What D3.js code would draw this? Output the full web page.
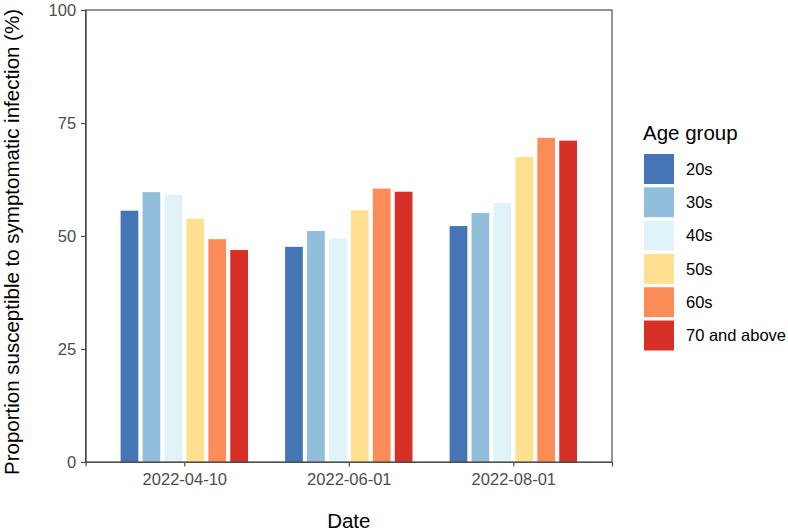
<!DOCTYPE html>
<html><head><meta charset="utf-8">
<script src="https://cdn.jsdelivr.net/npm/d3@7"></script>
<style>body{margin:0;background:#fff}svg{display:block}text{font-family:"Liberation Sans",Arial,sans-serif}</style>
</head><body>
<svg id="c" width="788" height="532"></svg>
<script>
const dates = ["2022-04-10", "2022-06-01", "2022-08-01"];
const ageGroups = ["20s", "30s", "40s", "50s", "60s", "70 and above"];
const colors = ["#4575b4", "#91bfdb", "#e0f3f8", "#fee090", "#fc8d59", "#d73027"];
const v20s = [55.6, 47.6, 52.2];
const v30s = [59.7, 51.1, 55.1];
const v40s = [59.1, 49.4, 57.3];
const v50s = [53.8, 55.7, 67.5];
const v60s = [49.3, 60.5, 71.7];
const v70 = [46.9, 59.8, 71.1];
const yTicks = [0, 25, 50, 75, 100];
const series = [v20s, v30s, v40s, v50s, v60s, v70];

const svg = d3.select("#c");
const L = 85.6, R = 612, T = 10, B = 462;
const y = d3.scaleLinear().domain([0, 100]).range([B, T]);
const x = d3.scalePoint().domain(dates).range([L, R]).padding(0.6);
const step = x.step();
const xi = d3.scaleBand().domain(ageGroups).range([-0.4 * step, 0.4 * step]);
const color = d3.scaleOrdinal().domain(ageGroups).range(colors);

const data = [];
dates.forEach((d, i) => ageGroups.forEach((g, j) => data.push({date: d, group: g, value: series[j][i]})));

const inset = 2.1;
svg.append("g").selectAll("rect").data(data).join("rect")
  .attr("x", d => x(d.date) + xi(d.group) + inset)
  .attr("width", xi.bandwidth() - 2 * inset)
  .attr("y", d => y(d.value))
  .attr("height", d => y(0) - y(d.value))
  .attr("fill", d => color(d.group));

// panel border
svg.append("rect").attr("x", L).attr("y", T).attr("width", R - L).attr("height", B - T)
  .attr("fill", "none").attr("stroke", "#4d4d4d").attr("stroke-width", 1.2);

const yAxis = svg.append("g").attr("transform", `translate(${L},0)`)
  .call(d3.axisLeft(y).tickValues(yTicks).tickSize(4.5).tickPadding(5));
const xAxis = svg.append("g").attr("transform", `translate(0,${B})`)
  .call(d3.axisBottom(x).tickSize(4.5).tickPadding(6.5));
[yAxis, xAxis].forEach(a => {
  a.select(".domain").attr("stroke", "#4d4d4d").attr("stroke-width", 1.2);
  a.selectAll(".tick line").attr("stroke", "#4d4d4d").attr("stroke-width", 1.2);
  a.selectAll(".tick text").attr("fill", "#4d4d4d").style("font-size", "16.5px")
    .style("font-family", '"Liberation Sans",Arial,sans-serif');
});

svg.append("text").attr("x", (L + R) / 2).attr("y", 528).attr("text-anchor", "middle")
  .style("font-size", "20.5px").attr("fill", "#000").text("Date");
svg.append("text").attr("transform", `translate(19,242) rotate(-90)`)
  .attr("text-anchor", "middle").style("font-size", "20.5px").attr("fill", "#000")
  .text("Proportion susceptible to symptomatic infection (%)");

// legend
const lg = svg.append("g");
lg.append("text").attr("x", 643).attr("y", 139.5).style("font-size", "20.5px").text("Age group");
const keyStep = 33.3;
ageGroups.forEach((g, j) => {
  lg.append("rect").attr("x", 644).attr("y", 154 + j * keyStep).attr("width", 30).attr("height", 30)
    .attr("fill", color(g));
  lg.append("text").attr("x", 686).attr("y", 154 + j * keyStep + 15).attr("dy", "0.35em")
    .style("font-size", "16.5px").attr("fill", "#000").text(g);
});
</script>
</body></html>
